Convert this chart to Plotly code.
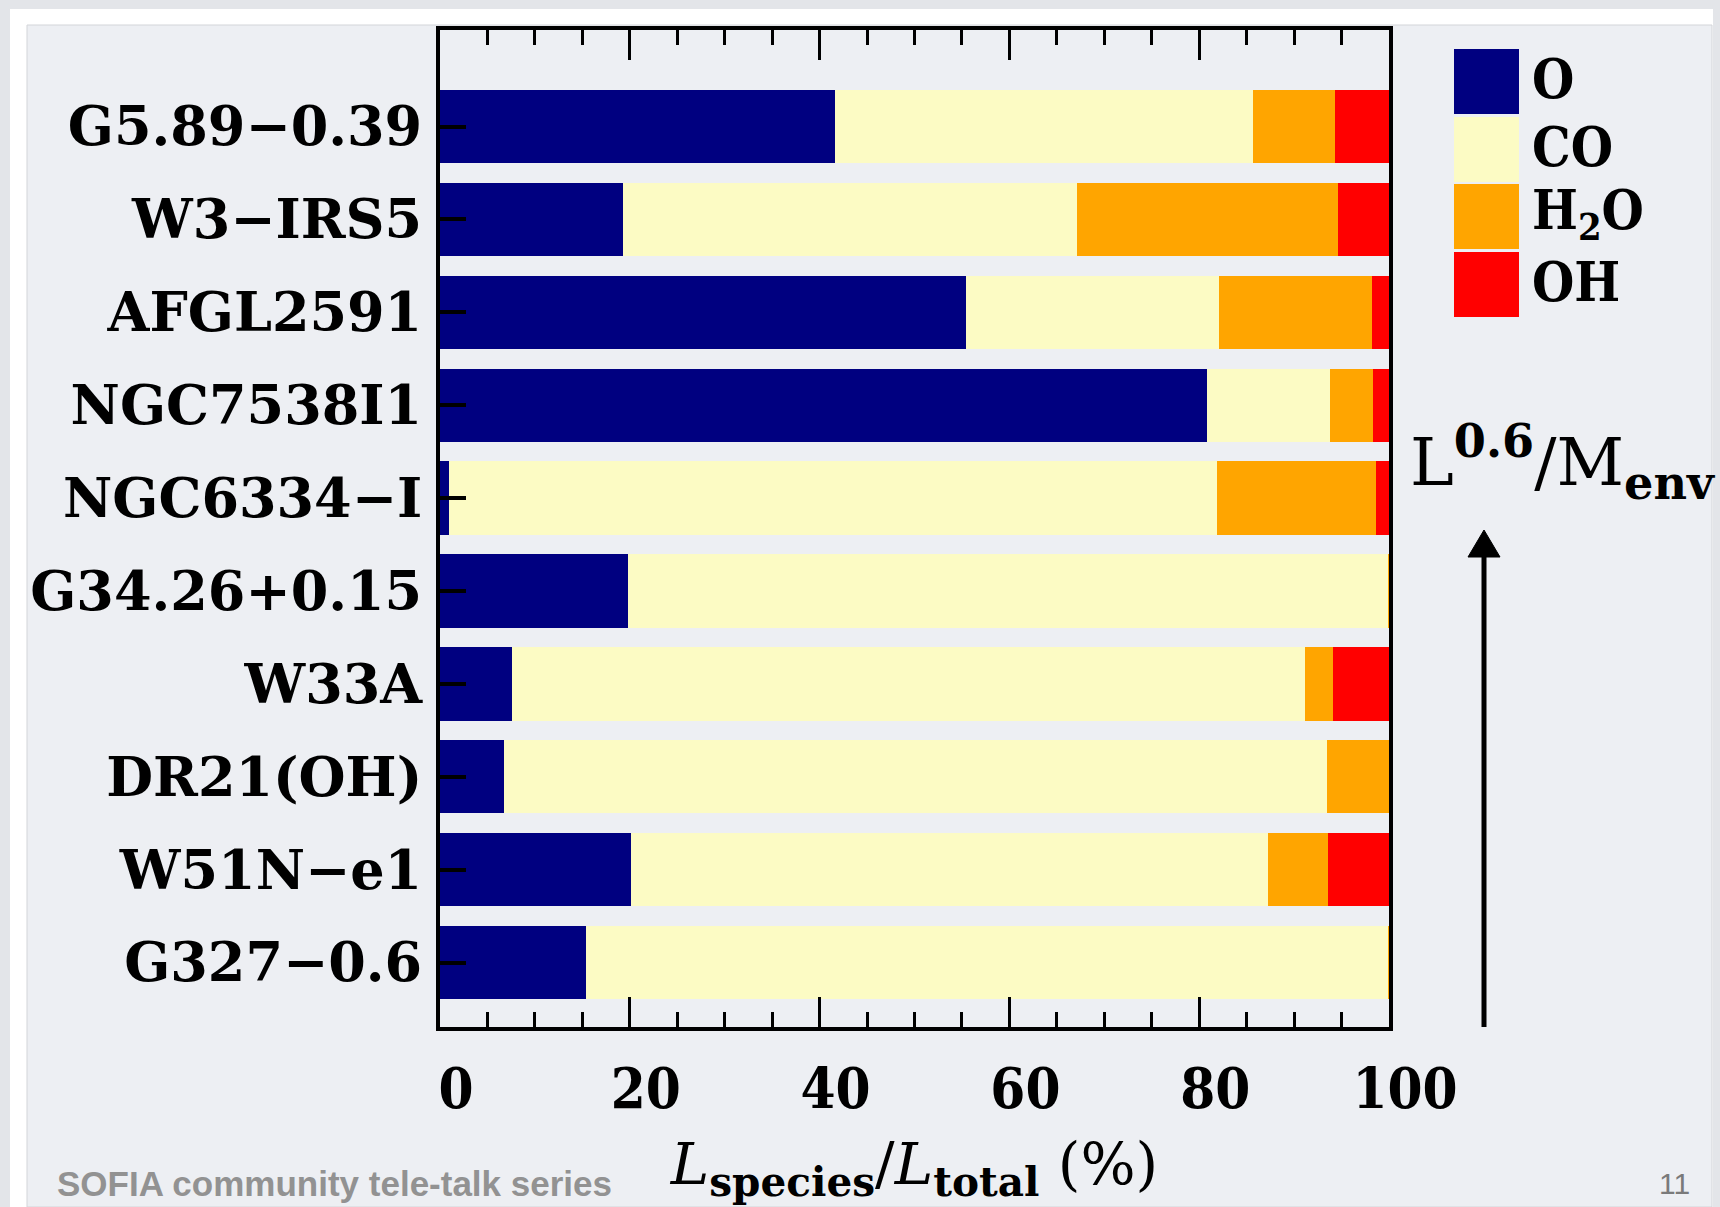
import plotly.graph_objects as go

# Sources, top to bottom (ordered by L^0.6 / M_env)
sources = ["G5.89−0.39", "W3−IRS5", "AFGL2591", "NGC7538I1", "NGC6334−I",
           "G34.26+0.15", "W33A", "DR21(OH)", "W51N−e1", "G327−0.6"]

# Fraction of the total far-IR line luminosity carried by each species (%)
o_frac = [41.6, 19.3, 55.4, 80.8, 1.0, 19.8, 7.6, 6.7, 20.1, 15.4]
co_frac = [44.05, 47.8, 26.7, 13.0, 80.9, 80.1, 83.6, 86.8, 67.1, 84.5]
h2o_frac = [8.65, 27.5, 16.1, 4.5, 16.7, 0.1, 2.9, 6.5, 6.4, 0.1]
oh_frac = [5.7, 5.4, 1.8, 1.7, 1.4, 0.0, 5.9, 0.0, 6.4, 0.0]

species = ["O", "CO", "H<sub>2</sub>O", "OH"]
colors = ["#000080", "#fcfbc4", "#ffa500", "#ff0000"]
x_ticks = [0, 20, 40, 60, 80, 100]

# page geometry (pixels)
W, H = 1720, 1207
ML, MR, MT, MB = 440, 331, 30, 180
PW, PH = W - ML - MR, H - MT - MB


def px(x):
    return (x - ML) / PW


def py(y):
    return 1 - (y - MT) / PH


SERIF = "DejaVu Serif"
SERIF_NARROW = "'DejaVu Serif Condensed', 'DejaVu Serif'"

fig = go.Figure()
for name, vals, col in zip(species, [o_frac, co_frac, h2o_frac, oh_frac], colors):
    fig.add_trace(go.Bar(
        y=sources, x=vals, name=name, orientation="h",
        marker=dict(color=col, line=dict(width=0)),
        showlegend=False,
    ))

shapes = []
# slide frame and panel
shapes.append(dict(type="rect", xref="paper", yref="paper", layer="below",
                   x0=px(10), x1=px(1713), y0=py(9), y1=py(1207),
                   fillcolor="#ffffff", line=dict(width=0)))
shapes.append(dict(type="rect", xref="paper", yref="paper", layer="below",
                   x0=px(27), x1=px(1712), y0=py(25), y1=py(1207),
                   fillcolor="#edeff3", line=dict(color="#d3d5d9", width=1)))

# legend swatches
box_top = [49, 117, 184, 252]
for top, col in zip(box_top, colors):
    shapes.append(dict(type="rect", xref="paper", yref="paper", layer="above",
                       x0=px(1454), x1=px(1519), y0=py(top), y1=py(top + 65),
                       fillcolor=col, line=dict(width=0)))

# upward arrow beside the plot
shapes.append(dict(type="line", xref="paper", yref="paper",
                   x0=px(1484), x1=px(1484), y0=py(1027), y1=py(552),
                   line=dict(color="black", width=5)))
shapes.append(dict(type="path", xref="paper", yref="paper",
                   path=f"M {px(1468)},{py(557)} L {px(1500)},{py(557)} L {px(1484)},{py(530)} Z",
                   fillcolor="black", line=dict(color="black", width=1)))

annotations = []
for top, name in zip(box_top, species):
    annotations.append(dict(
        xref="paper", yref="paper", x=px(1530), y=py(top + 30),
        xanchor="left", yanchor="middle", showarrow=False, text=name,
        font=dict(family=SERIF_NARROW, size=54, color="black", weight="bold"),
    ))

annotations.append(dict(
    xref="paper", yref="paper", x=px(1408), y=py(462),
    xanchor="left", yanchor="middle", showarrow=False,
    text="L<sup><b>0.6</b></sup>/M<sub><b>env</b></sub>",
    font=dict(family=SERIF, size=66, color="black"),
))

annotations.append(dict(
    xref="paper", yref="paper", x=px(55), y=py(1183),
    xanchor="left", yanchor="middle", showarrow=False,
    text="SOFIA community tele-talk series",
    font=dict(family="Liberation Sans", size=35, color="#929292", weight="bold"),
))
annotations.append(dict(
    xref="paper", yref="paper", x=px(1692), y=py(1183),
    xanchor="right", yanchor="middle", showarrow=False, text="11",
    font=dict(family="Liberation Sans", size=30, color="#7a7a7a"),
))

fig.update_layout(
    width=W, height=H,
    margin=dict(l=ML, r=MR, t=MT, b=MB, pad=0),
    paper_bgcolor="#e3e5e9",
    plot_bgcolor="rgba(0,0,0,0)",
    barmode="stack",
    bargap=0.21,
    shapes=shapes,
    annotations=annotations,
    xaxis=dict(
        range=[0, 100], tickvals=x_ticks, ticktext=[str(v) for v in x_ticks],
        ticks="inside", ticklen=30, tickwidth=3, tickcolor="black",
        minor=dict(dtick=5, tick0=0, ticks="inside", ticklen=15, tickwidth=3, tickcolor="black"),
        showline=True, linecolor="black", linewidth=4, mirror="ticks",
        showgrid=False, zeroline=False,
        tickfont=dict(family=SERIF_NARROW, size=56, color="black", weight="bold"),
        ticklabelshift=16, ticklabelstandoff=10,
        title=dict(
            text="<i>L</i><sub><b>species</b></sub>/<i>L</i><sub><b>total</b></sub>&nbsp;(%)",
            font=dict(family=SERIF, size=58, color="black"),
            standoff=24,
        ),
        automargin=False,
    ),
    yaxis=dict(
        categoryorder="array", categoryarray=sources,
        range=[9.694, -1.039],
        ticks="inside", ticklen=26, tickwidth=4, tickcolor="black",
        showline=True, linecolor="black", linewidth=4, mirror=True,
        showgrid=False, zeroline=False,
        tickfont=dict(family=SERIF, size=54, color="black", weight="bold"),
        ticklabelstandoff=3,
        automargin=False,
    ),
)

fig.write_html("out.html")
